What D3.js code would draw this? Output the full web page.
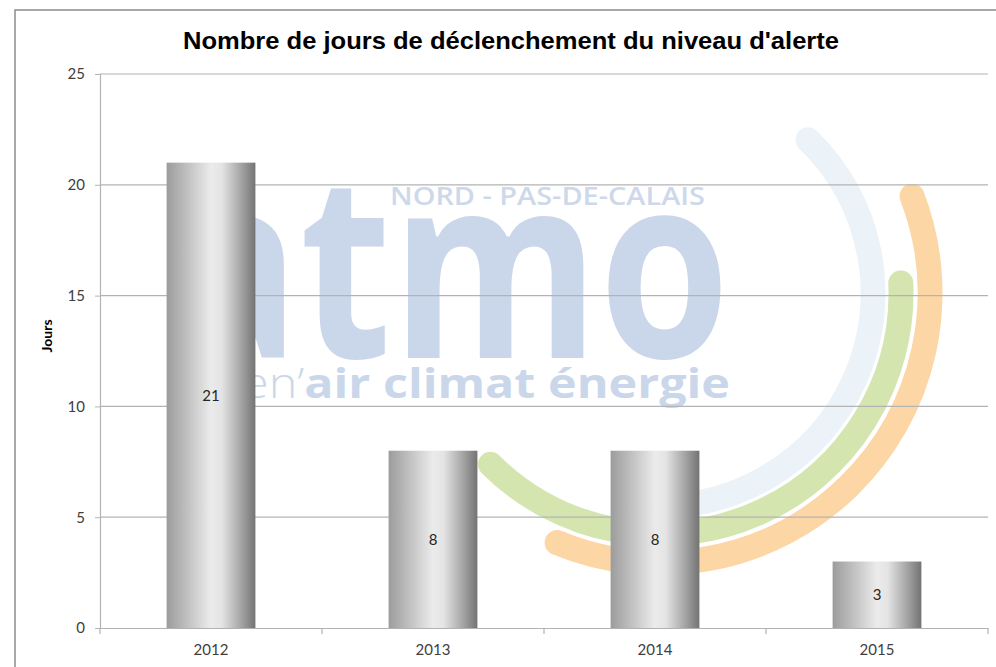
<!DOCTYPE html>
<html>
<head>
<meta charset="utf-8">
<script src="https://cdn.jsdelivr.net/npm/d3@7"></script>
<style>
    body { margin: 0; background: #fff; }
    .tick text { font-family: Lato, "Open Sans", sans-serif; font-size: 15px; fill: #404040; }
</style>
</head>
<body>
<div id="chart"></div>
<script>
var years = ["2012", "2013", "2014", "2015"];
var jours = [21, 8, 8, 3];
var yTicks = [0, 5, 10, 15, 20, 25];
var title = "Nombre de jours de déclenchement du niveau d'alerte";
var yLabel = "Jours";

var w = 996,
    h = 667,
    padLeft = 100,
    padRight = 988,
    padTop = 74,
    padBottom = 628;

var svg = d3.select("#chart")
    .append("svg")
    .attr("width", w)
    .attr("height", h);

// gradient for the "cylinder" bars
var grad = svg.append("defs").append("linearGradient")
    .attr("id", "barGrad")
    .attr("x1", "0%").attr("x2", "100%")
    .attr("y1", "0%").attr("y2", "0%");
[[0, "#9c9c9c"], [0.18, "#b8b8b8"], [0.5, "#ebebeb"], [0.62, "#e4e4e4"], [0.84, "#a4a4a4"], [1, "#737373"]]
    .forEach(function (s) {
        grad.append("stop").attr("offset", s[0]).attr("stop-color", s[1]);
    });

// frame
svg.append("rect")
    .attr("x", 15).attr("y", 10)
    .attr("width", w).attr("height", h)
    .attr("fill", "none")
    .attr("stroke", "#8c8c8c")
    .attr("stroke-width", 1.5);

// watermark logo (background picture)
var logo = svg.append("g").attr("class", "logo");
var cx = 660, cy = 293;
var rings = [
    { r: 213, a0: -46, a1: 95, color: "#ebf2f8" },
    { r: 241, a0: -2.4, a1: 134.7, color: "#d4e5b0" },
    { r: 270, a0: -21, a1: 112.4, color: "#fdd6a6" }
];
rings.forEach(function (d) {
    var p = d3.path();
    var a0 = d.a0 * Math.PI / 180, a1 = d.a1 * Math.PI / 180;
    p.moveTo(cx + d.r * Math.cos(a0), cy + d.r * Math.sin(a0));
    p.arc(cx, cy, d.r, a0, a1);
    logo.append("path")
        .attr("d", p.toString())
        .attr("fill", "none")
        .attr("stroke", d.color)
        .attr("stroke-width", 25)
        .attr("stroke-linecap", "round");
});
logo.append("text")
    .attr("x", 730).attr("y", 358)
    .attr("text-anchor", "end")
    .attr("textLength", 558)
    .attr("lengthAdjust", "spacingAndGlyphs")
    .style("font-family", "'Open Sans', sans-serif")
    .style("font-weight", 700)
    .style("font-size", "255px")
    .style("fill", "#cad7ea")
    .text("atmo");
logo.append("text")
    .attr("x", 705).attr("y", 205)
    .attr("text-anchor", "end")
    .attr("textLength", 315)
    .attr("lengthAdjust", "spacingAndGlyphs")
    .style("font-family", "'Open Sans', sans-serif")
    .style("font-weight", 600)
    .style("font-size", "25px")
    .style("fill", "#cdd9ea")
    .text("NORD - PAS-DE-CALAIS");
var tag = logo.append("text")
    .attr("x", 730).attr("y", 398)
    .attr("text-anchor", "end")
    .attr("textLength", 488)
    .attr("lengthAdjust", "spacingAndGlyphs")
    .style("font-family", "'Open Sans', sans-serif")
    .style("font-size", "42px")
    .style("fill", "#cad7ea");
tag.append("tspan").style("font-weight", 300).text("en’");
tag.append("tspan").style("font-weight", 700).text("air climat énergie");

// scales
var x = d3.scaleBand().domain(years).range([padLeft, padRight]).padding(0);
var y = d3.scaleLinear().domain([0, 25]).range([padBottom, padTop]);
var barW = x.bandwidth() * 0.4;

// gridlines
svg.append("g")
    .selectAll("line")
    .data(yTicks.slice(1))
    .enter()
    .append("line")
    .attr("x1", padLeft).attr("x2", padRight)
    .attr("y1", function (d) { return y(d); })
    .attr("y2", function (d) { return y(d); })
    .attr("stroke", "#b3b3b3")
    .attr("stroke-width", 1.2);

// axes
var yAxis = d3.axisLeft(y).tickValues(yTicks).tickSize(5).tickPadding(10);
var gy = svg.append("g")
    .attr("transform", "translate(" + padLeft + ",0)")
    .call(yAxis);
gy.select(".domain").attr("stroke", "#b3b3b3").attr("stroke-width", 1.2);
gy.selectAll(".tick line").attr("stroke", "#b3b3b3");

var xAxis = d3.axisBottom(x).tickSize(0).tickPadding(16);
var gx = svg.append("g")
    .attr("transform", "translate(0," + padBottom + ")")
    .call(xAxis);
gx.select(".domain").attr("stroke", "#b3b3b3").attr("stroke-width", 1.2);

// separator ticks between categories
svg.append("g")
    .selectAll("line")
    .data(years.concat(["end"]))
    .enter()
    .append("line")
    .attr("x1", function (d, i) { return padLeft + i * x.step(); })
    .attr("x2", function (d, i) { return padLeft + i * x.step(); })
    .attr("y1", padBottom)
    .attr("y2", padBottom + 6)
    .attr("stroke", "#b3b3b3")
    .attr("stroke-width", 1.2);

// bars
svg.append("g")
    .selectAll("rect")
    .data(jours)
    .enter()
    .append("rect")
    .attr("x", function (d, i) { return x(years[i]) + (x.bandwidth() - barW) / 2; })
    .attr("y", function (d) { return y(d); })
    .attr("width", barW)
    .attr("height", function (d) { return y(0) - y(d); })
    .attr("fill", "url(#barGrad)");

// value labels
svg.append("g")
    .selectAll("text")
    .data(jours)
    .enter()
    .append("text")
    .attr("x", function (d, i) { return x(years[i]) + x.bandwidth() / 2; })
    .attr("y", function (d) { return (y(d) + y(0)) / 2; })
    .attr("dy", "0.35em")
    .attr("text-anchor", "middle")
    .style("font-family", "Lato, sans-serif")
    .style("font-size", "15px")
    .style("fill", "#262626")
    .text(function (d) { return d; });

// y label
svg.append("text")
    .attr("transform", "translate(52,336) rotate(-90)")
    .attr("text-anchor", "middle")
    .style("font-family", "Lato, sans-serif")
    .style("font-weight", 700)
    .style("font-size", "14px")
    .style("fill", "#000")
    .text(yLabel);

// title
svg.append("text")
    .attr("x", 511).attr("y", 49)
    .attr("text-anchor", "middle")
    .attr("textLength", 656)
    .attr("lengthAdjust", "spacingAndGlyphs")
    .style("font-family", "'Liberation Sans', Arial, sans-serif")
    .style("font-weight", 700)
    .style("font-size", "24px")
    .style("fill", "#000")
    .text(title);
</script>
</body>
</html>
